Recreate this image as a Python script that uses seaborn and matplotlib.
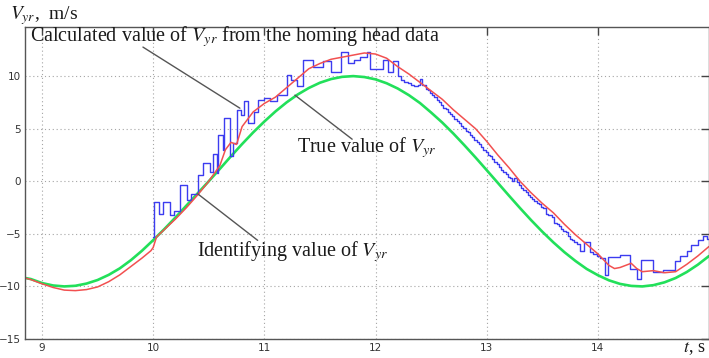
import matplotlib
matplotlib.use("Agg")
import matplotlib.pyplot as plt
import pandas as pd
import seaborn as sns

# ---------------- data ----------------
green_t = [8.85, 8.9, 9.0, 9.1, 9.2, 9.3, 9.4, 9.5, 9.6, 9.7, 9.8, 9.9, 10.0,
           10.1, 10.2, 10.3, 10.4, 10.5, 10.6, 10.7, 10.8, 10.9, 11.0, 11.1,
           11.2, 11.3, 11.4, 11.5, 11.6, 11.7, 11.8, 11.9, 12.0, 12.1, 12.2,
           12.3, 12.4, 12.5, 12.6, 12.7, 12.8, 12.9, 13.0, 13.1, 13.2, 13.3,
           13.4, 13.5, 13.6, 13.7, 13.8, 13.9, 14.0, 14.1, 14.2, 14.3, 14.4,
           14.5, 14.6, 14.7, 14.8, 14.9, 15.0]
green_v = [-9.2, -9.3, -9.68, -9.91, -10.0, -9.94, -9.73, -9.39, -8.9, -8.28,
           -7.5, -6.6, -5.6, -4.55, -3.45, -2.3, -1.15, 0.0, 1.18, 2.38, 3.54,
           4.65, 5.68, 6.64, 7.5, 8.25, 8.87, 9.37, 9.72, 9.93, 10.0, 9.91,
           9.69, 9.32, 8.82, 8.19, 7.44, 6.54, 5.59, 4.54, 3.42, 2.26, 1.06,
           -0.15, -1.36, -2.55, -3.7, -4.79, -5.81, -6.75, -7.59, -8.34, -8.93,
           -9.42, -9.76, -9.95, -10.0, -9.88, -9.61, -9.2, -8.63, -7.93, -7.11]

red_t = [8.85, 8.9, 9.0, 9.1, 9.2, 9.3, 9.4, 9.5, 9.6, 9.7, 9.8, 9.9, 9.98,
         10.0, 10.03, 10.1, 10.2, 10.3, 10.4, 10.5, 10.6, 10.65, 10.7, 10.75,
         10.8, 10.9, 11.0, 11.1, 11.2, 11.3, 11.4, 11.5, 11.6, 11.7, 11.8,
         11.9, 12.0, 12.1, 12.2, 12.3, 12.4, 12.5, 12.6, 12.7, 12.8, 12.9,
         13.0, 13.1, 13.2, 13.3, 13.4, 13.5, 13.6, 13.7, 13.8, 13.9, 14.0,
         14.1, 14.15, 14.2, 14.3, 14.35, 14.4, 14.5, 14.6, 14.7, 14.8, 14.9,
         15.0]
red_v = [-9.2, -9.35, -9.75, -10.1, -10.35, -10.4, -10.3, -10.05, -9.55, -8.9,
         -8.1, -7.3, -6.6, -6.3, -5.3, -4.6, -3.6, -2.5, -1.3, 0.0, 1.5, 3.0,
         3.7, 3.5, 5.2, 6.6, 7.4, 8.0, 8.9, 9.8, 10.7, 11.2, 11.6, 11.8, 12.0,
         12.2, 12.1, 11.7, 10.9, 10.2, 9.4, 8.6, 7.8, 6.8, 5.9, 5.0, 3.8, 2.5,
         1.3, 0.0, -1.1, -2.1, -3.0, -4.1, -5.1, -6.0, -6.9, -8.0, -8.3, -8.2,
         -7.8, -8.3, -8.6, -8.5, -8.7, -8.6, -7.9, -7.1, -6.2]

blue_t = [10.0, 10.003, 10.05, 10.09, 10.15, 10.19, 10.24, 10.30, 10.34, 10.40,
          10.45, 10.51, 10.54, 10.57, 10.58, 10.63, 10.64, 10.69, 10.72, 10.75,
          10.79, 10.82, 10.85, 10.91, 10.94, 11.00, 11.05, 11.11, 11.20, 11.24,
          11.29, 11.35, 11.44, 11.53, 11.60, 11.69, 11.75, 11.81, 11.86, 11.92,
          11.95, 12.07, 12.11, 12.16, 12.20, 12.23, 12.26, 12.29, 12.32, 12.35,
          12.38, 12.40, 12.42, 12.45, 12.47, 12.49, 12.51, 12.53, 12.55, 12.57,
          12.59, 12.61, 12.63, 12.65, 12.67, 12.69, 12.71, 12.73, 12.75, 12.77,
          12.79, 12.81, 12.83, 12.85, 12.87, 12.89, 12.91, 12.93, 12.95, 12.97,
          12.99, 13.01, 13.03, 13.05, 13.07, 13.09, 13.11, 13.13, 13.15, 13.17,
          13.19, 13.21, 13.23, 13.25, 13.27, 13.29, 13.31, 13.33, 13.35, 13.37,
          13.39, 13.41, 13.43, 13.45, 13.47, 13.49, 13.51, 13.53, 13.55, 13.57,
          13.59, 13.61, 13.63, 13.65, 13.67, 13.69, 13.71, 13.73, 13.75, 13.77,
          13.79, 13.81, 13.84, 13.88, 13.93, 13.96, 13.99, 14.02, 14.06, 14.09,
          14.20, 14.29, 14.35, 14.39, 14.50, 14.59, 14.69, 14.74, 14.80, 14.84,
          14.90, 14.95, 14.98, 15.00]
blue_v = [-5.3, -2.0, -3.1, -2.0, -3.2, -2.8, -0.4, -1.8, -1.2, 0.6,
          1.7, 0.9, 2.6, 0.8, 4.4, 3.0, 6.0, 2.4, 3.6, 6.8,
          6.3, 7.6, 5.5, 6.6, 7.7, 7.9, 7.6, 8.2, 10.1, 9.6,
          9.1, 11.5, 10.9, 11.4, 10.4, 12.3, 11.2, 11.5, 11.8, 12.3,
          10.7, 11.5, 10.4, 11.4, 10.0, 9.6, 9.4, 9.3, 9.2, 9.1,
          9.2, 9.7, 9.2, 8.8, 8.7, 8.4, 8.2, 8.0, 7.7, 7.5,
          7.3, 7.0, 6.9, 6.6, 6.4, 6.2, 5.9, 5.7, 5.5, 5.3,
          5.1, 4.8, 4.7, 4.4, 4.2, 3.9, 3.7, 3.5, 3.3, 3.0,
          2.8, 2.5, 2.4, 2.1, 1.8, 1.6, 1.4, 1.1, 0.9, 0.7,
          0.4, 0.3, 0.0, 0.3, -0.1, -0.4, -0.6, -0.8, -1.0, -1.3,
          -1.5, -1.7, -1.9, -2.1, -2.2, -2.4, -2.5, -3.1, -3.2, -3.2,
          -3.4, -4.0, -4.1, -4.3, -4.5, -4.7, -4.8, -5.2, -5.5, -5.6,
          -5.8, -6.0, -6.6, -5.8, -6.7, -6.9, -7.1, -7.3, -8.9, -7.2,
          -7.0, -8.3, -9.3, -7.5, -8.6, -8.4, -7.6, -7.1, -6.6, -6.1,
          -5.6, -5.2, -5.5, -5.5]

x_ticks = [9, 10, 11, 12, 13, 14]
y_ticks = [-15, -10, -5, 0, 5, 10]

# annotations: text, text anchor (t, v), leader line start, leader line end
annotations = [
    (r"Calculated value of $V_{yr}$ from the homing head data", (8.89, 13.3),
     (9.908, 12.76), (10.78, 6.95)),
    (r"True value of $V_{yr}$", (11.29, 2.8), (11.275, 8.19), (11.79, 4.0)),
    (r"Identifying value of $V_{yr}$", (10.39, -7.1), (10.40, -1.19),
     (10.94, -5.62)),
]

# ---------------- drawing ----------------
sns.set_style("white")
plt.rcParams["mathtext.fontset"] = "stix"

fig = plt.figure(figsize=(7.09, 3.58), dpi=100)
ax = fig.add_axes([25 / 709, 19 / 358, 684 / 709, 312 / 358])

green = pd.DataFrame({"t": green_t, "v": green_v})
red = pd.DataFrame({"t": red_t, "v": red_v})
blue = pd.DataFrame({"t": blue_t, "v": blue_v})

sns.lineplot(data=green, x="t", y="v", ax=ax, color="#22e05a", lw=1.9,
             estimator=None, sort=False)
sns.lineplot(data=blue, x="t", y="v", ax=ax, color="#3c3cf0", lw=1.0,
             estimator=None, sort=False, drawstyle="steps-post")
sns.lineplot(data=red, x="t", y="v", ax=ax, color="#f25050", lw=1.1,
             estimator=None, sort=False)

ax.set_xlim(8.847, 15.0)
ax.set_ylim(-15, 14.67)
ax.set_xticks(x_ticks)
ax.set_yticks(y_ticks)
ax.set_xlabel("")
ax.set_ylabel("")
ax.grid(True, linestyle=(0, (1, 2.5)), color="#a5a5a5", lw=0.8)
ax.tick_params(direction="in", length=6, width=1, color="#444444",
               labelsize=7.5, labelcolor="#333333", top=True, right=True,
               pad=3)
for lab in ax.get_xticklabels() + ax.get_yticklabels():
    lab.set_family(["Liberation Sans Narrow", "DejaVu Sans"])
for sp in ax.spines.values():
    sp.set_color("#555555")
    sp.set_linewidth(1.0)
    sp.set_visible(True)

serif = ["Liberation Serif", "DejaVu Serif"]
for text, pos, p0, p1 in annotations:
    ax.annotate("", xy=p1, xytext=p0,
                arrowprops=dict(arrowstyle="-", color="#555555", lw=1.0,
                                shrinkA=0, shrinkB=0))
    ax.text(pos[0], pos[1], text, fontsize=14.5, family=serif,
            color="#1a1a1a", ha="left", va="baseline")

fig.text(10 / 709, 1 - 19 / 358, r"$V_{yr}$,  m/s", fontsize=14,
         family=serif, color="#1a1a1a", ha="left", va="baseline")
fig.text(683 / 709, 1 - 352 / 358, r"$t$, s", fontsize=13, family=serif,
         color="#1a1a1a", ha="left", va="baseline")

fig.savefig("out.png", dpi=100, facecolor="white")
